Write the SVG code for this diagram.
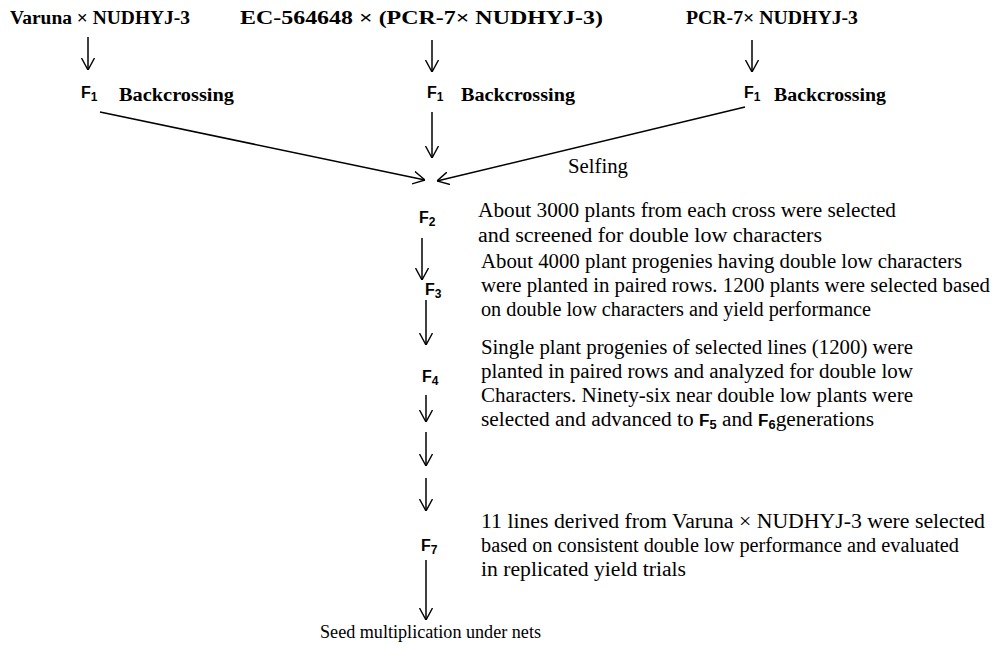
<svg xmlns="http://www.w3.org/2000/svg" width="992" height="648" viewBox="0 0 992 648">
<style>
.t{font-family:"Liberation Serif","Times New Roman",serif;font-size:20px;fill:#000}
.b{font-weight:bold;font-size:18px}
.f{font-family:"Liberation Sans",Arial,sans-serif;font-size:16px;font-weight:bold;fill:#000}
.s{font-size:12px}
.c{stroke:#000;stroke-width:1.5;fill:none}
</style>
<defs>
<marker id="ah" markerUnits="userSpaceOnUse" viewBox="0 0 12 14" refX="12" refY="7" markerWidth="12" markerHeight="14" orient="auto">
<path d="M0,0.5 L12,7 L0,13.5" fill="none" stroke="#000" stroke-width="1.4"/>
</marker>
</defs>
<rect width="992" height="648" fill="#fff"/>
<g id="cross1"><text class="t b" x="10" y="24" textLength="180" lengthAdjust="spacingAndGlyphs">Varuna × NUDHYJ-3</text></g>
<g id="cross2"><text class="t b" x="240" y="24" textLength="363" lengthAdjust="spacingAndGlyphs">EC-564648 × (PCR-7× NUDHYJ-3)</text></g>
<g id="cross3"><text class="t b" x="686" y="24" textLength="172" lengthAdjust="spacingAndGlyphs">PCR-7× NUDHYJ-3</text></g>
<g id="f1a"><text class="f" x="81" y="98">F<tspan class="s" dy="3">1</tspan></text><text class="t b" x="119" y="101" textLength="115" lengthAdjust="spacingAndGlyphs">Backcrossing</text></g>
<g id="f1b"><text class="f" x="427" y="98">F<tspan class="s" dy="3">1</tspan></text><text class="t b" x="461" y="101" textLength="114" lengthAdjust="spacingAndGlyphs">Backcrossing</text></g>
<g id="f1c"><text class="f" x="744" y="98">F<tspan class="s" dy="3">1</tspan></text><text class="t b" x="774" y="101" textLength="112" lengthAdjust="spacingAndGlyphs">Backcrossing</text></g>
<g id="selfing"><text class="t" x="568" y="173" textLength="60" lengthAdjust="spacingAndGlyphs">Selfing</text></g>
<g id="f2"><text class="f" x="419" y="223">F<tspan class="s" dy="3">2</tspan></text>
<text class="t" x="478" y="217" textLength="418" lengthAdjust="spacingAndGlyphs">About 3000 plants from each cross were selected</text>
<text class="t" x="478" y="242" textLength="344" lengthAdjust="spacingAndGlyphs">and screened for double low characters</text></g>
<g id="f3"><text class="f" x="425" y="295">F<tspan class="s" dy="3">3</tspan></text>
<text class="t" x="481" y="268" textLength="481" lengthAdjust="spacingAndGlyphs">About 4000 plant progenies having double low characters</text>
<text class="t" x="481" y="292" textLength="509" lengthAdjust="spacingAndGlyphs">were planted in paired rows. 1200 plants were selected based</text>
<text class="t" x="481" y="316" textLength="390" lengthAdjust="spacingAndGlyphs">on double low characters and yield performance</text></g>
<g id="f4"><text class="f" x="422" y="382">F<tspan class="s" dy="3">4</tspan></text>
<text class="t" x="481" y="354" textLength="432" lengthAdjust="spacingAndGlyphs">Single plant progenies of selected lines (1200) were</text>
<text class="t" x="481" y="378" textLength="432" lengthAdjust="spacingAndGlyphs">planted in paired rows and analyzed for  double low</text>
<text class="t" x="481" y="402" textLength="432" lengthAdjust="spacingAndGlyphs">Characters.  Ninety-six near double low plants were</text>
<text class="t" x="481" y="426" textLength="393" lengthAdjust="spacingAndGlyphs">selected and advanced to <tspan class="f">F<tspan class="s" dy="3">5</tspan></tspan><tspan dy="-3"> and </tspan><tspan class="f">F<tspan class="s" dy="3">6</tspan></tspan><tspan dy="-3">generations</tspan></text></g>
<g id="f7"><text class="f" x="421" y="551">F<tspan class="s" dy="3">7</tspan></text>
<text class="t" x="481" y="528" textLength="504" lengthAdjust="spacingAndGlyphs">11 lines derived from  Varuna  × NUDHYJ-3 were selected</text>
<text class="t" x="481" y="552" textLength="478" lengthAdjust="spacingAndGlyphs">based on consistent double low performance and evaluated</text>
<text class="t" x="481" y="576" textLength="205" lengthAdjust="spacingAndGlyphs">in  replicated yield trials</text></g>
<g id="seed"><text class="t" x="320" y="638" style="font-size:19px" textLength="221" lengthAdjust="spacingAndGlyphs">Seed multiplication under nets</text></g>
<g id="connectors">
<line class="c" x1="88" y1="37" x2="88" y2="70" marker-end="url(#ah)"/>
<line class="c" x1="432" y1="40" x2="432" y2="72" marker-end="url(#ah)"/>
<line class="c" x1="752" y1="40" x2="752" y2="72" marker-end="url(#ah)"/>
<line class="c" x1="100" y1="112" x2="425" y2="180" marker-end="url(#ah)"/>
<line class="c" x1="432" y1="112" x2="432" y2="158" marker-end="url(#ah)"/>
<line class="c" x1="745" y1="107" x2="437" y2="181" marker-end="url(#ah)"/>
<line class="c" x1="422" y1="238" x2="422" y2="280" marker-end="url(#ah)"/>
<line class="c" x1="426" y1="300" x2="426" y2="345" marker-end="url(#ah)"/>
<line class="c" x1="426" y1="395" x2="426" y2="422" marker-end="url(#ah)"/>
<line class="c" x1="426" y1="432" x2="426" y2="466" marker-end="url(#ah)"/>
<line class="c" x1="426" y1="478" x2="426" y2="511" marker-end="url(#ah)"/>
<line class="c" x1="426" y1="560" x2="426" y2="620" marker-end="url(#ah)"/>
</g>
</svg>
